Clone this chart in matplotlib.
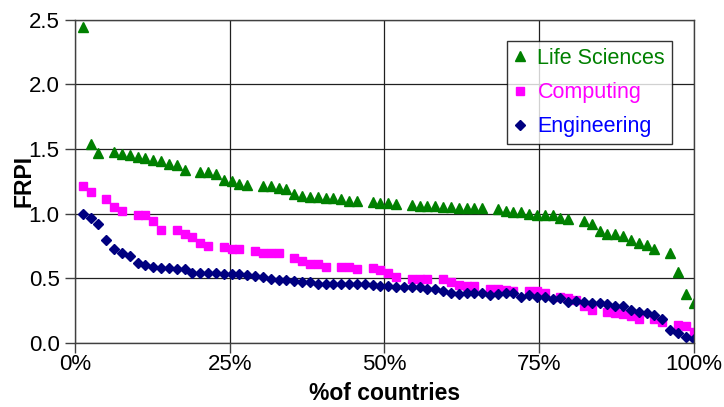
import matplotlib.pyplot as plt
plt.switch_backend('agg')
import numpy as np
from matplotlib.ticker import PercentFormatter, MultipleLocator

nan = np.nan

# countries ranked within each field, 79 positions (gaps = no value for that field)
life_sciences = [2.44, 1.54, 1.47, nan, 1.475, 1.46, 1.455, 1.44, 1.43, 1.415,
                 1.41, 1.385, 1.375, 1.34, nan, 1.32, 1.32, 1.305, 1.26, 1.25,
                 1.23, 1.22, nan, 1.21, 1.21, 1.20, 1.19, 1.15, 1.14, 1.13,
                 1.13, 1.12, 1.12, 1.11, 1.10, 1.10, nan, 1.09, 1.085, 1.08,
                 1.075, nan, 1.07, 1.06, 1.06, 1.06, 1.05, 1.05, 1.04, 1.04,
                 1.04, 1.04, nan, 1.035, 1.02, 1.015, 1.015, 1.00, 0.99, 0.99,
                 0.99, 0.965, 0.955, nan, 0.945, 0.92, 0.865, 0.84, 0.84, 0.83,
                 0.80, 0.77, 0.76, 0.73, nan, 0.70, 0.55, 0.38, 0.31]

computing = [1.21, 1.17, nan, 1.11, 1.055, 1.02, nan, 0.99, 0.99, 0.94,
             0.875, nan, 0.875, 0.84, 0.82, 0.77, 0.75, nan, 0.74, 0.725,
             0.725, nan, 0.71, 0.70, 0.70, 0.70, nan, 0.655, 0.632, 0.61,
             0.61, 0.585, nan, 0.59, 0.585, 0.575, nan, 0.58, 0.565, 0.545,
             0.51, nan, 0.495, 0.495, 0.495, nan, 0.493, 0.472, 0.452, 0.44,
             0.44, nan, 0.42, 0.42, 0.41, 0.40, nan, 0.40, 0.40, 0.39,
             nan, 0.36, 0.345, 0.33, 0.29, 0.255, nan, 0.24, 0.235, 0.225,
             0.21, 0.185, nan, 0.185, 0.165, nan, 0.14, 0.13, 0.085]

engineering = [0.995, 0.97, 0.92, 0.80, 0.73, 0.70, 0.67, 0.62, 0.60, 0.59,
               0.58, 0.58, 0.57, 0.575, 0.545, 0.545, 0.545, 0.545, 0.535, 0.535,
               0.535, 0.526, 0.519, 0.508, 0.493, 0.485, 0.49, 0.48, 0.475, 0.475,
               0.46, 0.46, 0.46, 0.46, 0.46, 0.46, 0.46, 0.45, 0.44, 0.445,
               0.43, 0.436, 0.431, 0.431, 0.416, 0.416, 0.405, 0.39, 0.38, 0.39,
               0.385, 0.385, 0.375, 0.38, 0.385, 0.385, 0.36, 0.37, 0.354, 0.354,
               0.338, 0.346, 0.32, 0.327, 0.32, 0.307, 0.307, 0.30, 0.285, 0.285,
               0.255, 0.24, 0.235, 0.217, 0.19, 0.105, 0.075, 0.05, 0.03]

n = len(engineering)
pct = np.arange(1, n + 1) / n

plt.rcParams['font.family'] = ['Liberation Sans', 'DejaVu Sans']

fig = plt.figure(figsize=(7.24, 4.07), dpi=100)
ax = fig.add_axes([0.1036, 0.157, 0.8544, 0.795])

ax.plot(pct, life_sciences, linestyle='none', marker='^', markersize=7,
        color='#008000', label='Life Sciences')
ax.plot(pct, computing, linestyle='none', marker='s', markersize=6,
        color='#FF00FF', label='Computing')
ax.plot(pct, engineering, linestyle='none', marker='D', markersize=5.5,
        color='#000080', label='Engineering')

ax.set_xlim(0, 1)
ax.set_ylim(0, 2.5)
ax.xaxis.set_major_locator(MultipleLocator(0.25))
ax.xaxis.set_major_formatter(PercentFormatter(xmax=1, decimals=0))
ax.yaxis.set_major_locator(MultipleLocator(0.5))
ax.yaxis.set_major_formatter(plt.FormatStrFormatter('%.1f'))

ax.grid(True, color='#202020', linewidth=0.9)
ax.set_axisbelow(True)
for s in ax.spines.values():
    s.set_color('#404040')
    s.set_linewidth(1.0)
ax.tick_params(direction='out', length=7, width=1, color='#404040',
               labelsize=16)
ax.tick_params(axis='y', pad=4)
ax.tick_params(axis='x', pad=1)

ax.set_xlabel('%of countries', fontsize=16.5, fontweight='bold', labelpad=5)
ax.set_ylabel('FRPI', fontsize=16.5, fontweight='bold', labelpad=-5)

leg = ax.legend(loc='upper right', bbox_to_anchor=(0.965, 0.934),
                borderaxespad=0, fontsize=15.5, frameon=True, fancybox=False,
                edgecolor='black', handletextpad=0.5, handlelength=0.6,
                labelspacing=0.62, borderpad=0.32)
leg.get_frame().set_linewidth(1.0)
for txt, c in zip(leg.get_texts(), ['#008000', '#FF00FF', '#0000FF']):
    txt.set_color(c)

plt.savefig('out.png', dpi=100)
